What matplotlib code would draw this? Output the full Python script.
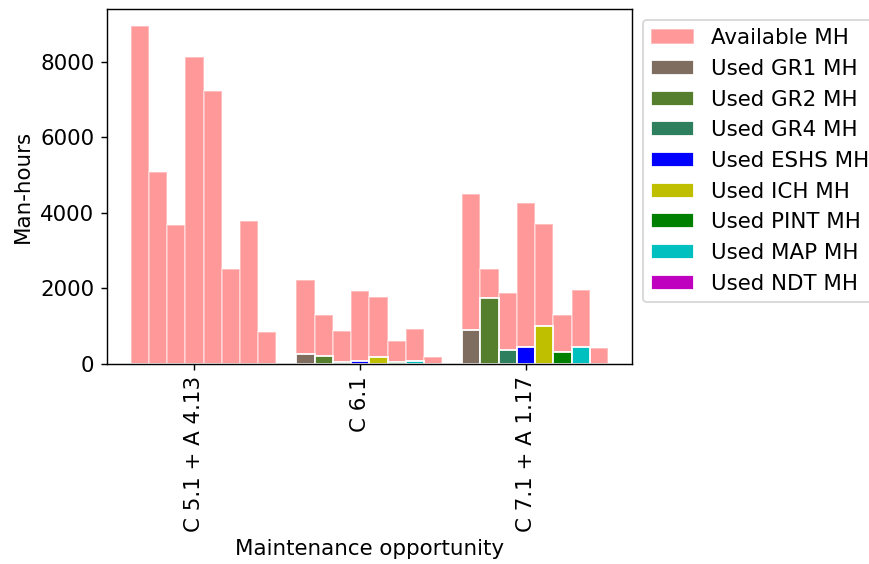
import matplotlib
matplotlib.use('Agg')
import matplotlib.pyplot as plt
import numpy as np

groups = ['C 5.1 + A 4.13', 'C 6.1', 'C 7.1 + A 1.17']
teams = ['GR1', 'GR2', 'GR4', 'ESHS', 'ICH', 'PINT', 'MAP', 'NDT']

# used man-hours per team, one value per maintenance opportunity
used_gr1 = [0, 260, 900]
used_gr2 = [0, 200, 1740]
used_gr4 = [0, 40, 360]
used_eshs = [0, 65, 430]
used_ich = [0, 165, 990]
used_pint = [0, 50, 300]
used_map = [0, 65, 440]
used_ndt = [0, 0, 0]

# available (remaining) man-hours, stacked on top of the used ones
avail_gr1 = [8955, 1947, 3597]
avail_gr2 = [5090, 1095, 759]
avail_gr4 = [3670, 814, 1502]
avail_eshs = [8140, 1859, 3820]
avail_ich = [7225, 1591, 2711]
avail_pint = [2510, 539, 979]
avail_map = [3790, 842, 1518]
avail_ndt = [830, 172, 411]

used = [used_gr1, used_gr2, used_gr4, used_eshs, used_ich, used_pint, used_map, used_ndt]
avail = [avail_gr1, avail_gr2, avail_gr4, avail_eshs, avail_ich, avail_pint, avail_map, avail_ndt]
colors = ['#7f6d5f', '#557f2d', '#2d7f5e', 'b', 'y', 'g', 'c', 'm']

dpi = 128
plt.rcParams.update({'font.size': 12})
fig = plt.figure(figsize=(869 / dpi, 564 / dpi), dpi=dpi)
ax = fig.add_axes([106.7 / 869, 1 - 363.5 / 564, 525.3 / 869, 354.5 / 564])

width = 0.11
x = np.arange(len(groups))

for i in range(len(teams)):
    ax.bar(x + (i - 3) * width, avail[i], width, bottom=used[i], color='r', alpha=0.4,
           edgecolor='white', label='Available MH' if i == 0 else None)
for i in range(len(teams)):
    ax.bar(x + (i - 3) * width, used[i], width, color=colors[i], edgecolor='white',
           label=f'Used {teams[i]} MH')

ax.set_xticks(x)
ax.set_xticklabels(groups, rotation=90)
ax.set_xlabel('Maintenance opportunity')
ax.set_ylabel('Man-hours')
ax.legend(loc='upper left', bbox_to_anchor=(1, 1))

fig.savefig('out.png', dpi=dpi)
